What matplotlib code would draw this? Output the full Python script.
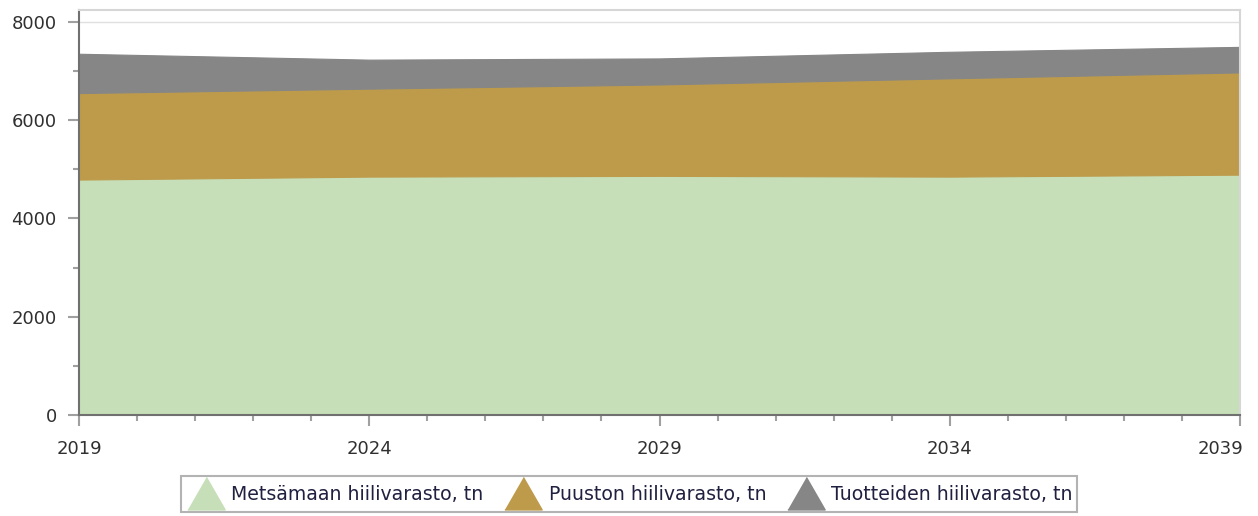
import numpy as np
import matplotlib
matplotlib.use("Agg")
import matplotlib.pyplot as plt
from matplotlib.lines import Line2D
import matplotlib.transforms as mtransforms

years = [2019, 2024, 2029, 2034, 2039]
metsamaa = [4790, 4850, 4865, 4850, 4890]
puusto = [1760, 1790, 1860, 2000, 2080]
tuotteet = [800, 590, 530, 540, 520]

labels = ["Metsämaan hiilivarasto, tn", "Puuston hiilivarasto, tn", "Tuotteiden hiilivarasto, tn"]
colors = ["#c6dfb8", "#bd9b4b", "#868686"]

plt.rcParams['font.family'] = ['DejaVu Sans']

fig = plt.figure(figsize=(12.58, 5.16), dpi=100)
ax = fig.add_axes([79 / 1258, 1 - 415 / 516, (1240 - 79) / 1258, (415 - 10) / 516])

ax.stackplot(years, metsamaa, puusto, tuotteet, colors=colors, linewidth=0.8)
for coll, c in zip(ax.collections, colors):
    coll.set_edgecolor(c)

ax.set_xlim(2019, 2039)
ax.set_ylim(0, 8240)
ax.set_xticks(years)
ax.set_xticks(range(2019, 2040), minor=True)
ax.set_yticks([0, 2000, 4000, 6000, 8000])
ax.set_yticks(range(0, 8001, 1000), minor=True)
ax.axhline(8000, color="#e0e0e0", lw=1, zorder=0)

ax.tick_params(axis="both", which="major", labelsize=13, color="#a0a0a0", length=8, width=1.5,
               labelcolor="#303030")
ax.tick_params(axis="both", which="minor", color="#a0a0a0", length=4, width=1.5)
ax.tick_params(axis="x", which="major", pad=10)
ax.tick_params(axis="y", which="major", pad=8)

# last x label pushed inside the figure
last = ax.get_xticklabels()[-1]
last.set_horizontalalignment("right")
last.set_transform(last.get_transform() + mtransforms.ScaledTranslation(3 / 100, 0, fig.dpi_scale_trans))

for s in ["left", "bottom"]:
    ax.spines[s].set_color("#707070")
    ax.spines[s].set_linewidth(1.5)
for s in ["top", "right"]:
    ax.spines[s].set_color("#d6d6d6")
    ax.spines[s].set_linewidth(1.5)

# triangle a bit lower than its centre so it sits inside the legend box
tri = [(-1.15, -1.2), (1.15, -1.2), (0, 0.8)]
handles = [Line2D([], [], marker=tri, linestyle="none", markersize=28, markerfacecolor=c,
                  markeredgecolor=c) for c in colors]
leg = fig.legend(handles, labels, loc="center", bbox_to_anchor=(629 / 1258, 1 - 494 / 516),
                 ncol=3, fontsize=13.6, frameon=True, fancybox=False, handletextpad=0.25,
                 columnspacing=1.0, borderpad=0.22, handlelength=2.2, handleheight=1.8)
leg.get_frame().set_edgecolor("#a0a0a0")
leg.get_frame().set_linewidth(1.5)
for t in leg.get_texts():
    t.set_color("#202040")

fig.savefig("out.png", dpi=100)
